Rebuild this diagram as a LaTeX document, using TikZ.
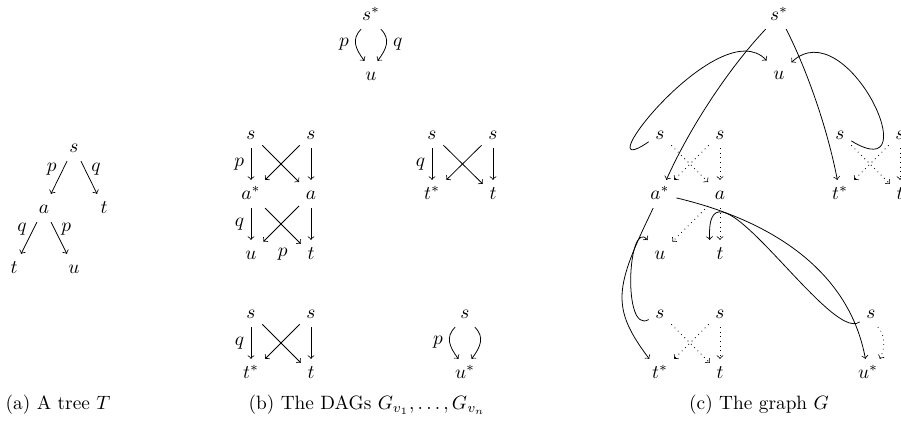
\documentclass[tikz,border=0pt]{standalone}
\begin{document}
\begin{tikzpicture}[x=0.518pt,y=-0.518pt,
  v/.style={text height=1.5ex,text depth=0.25ex},
  e/.style={->},
  d/.style={->,dotted},
  lab/.style={}]
\useasboundingbox (0,0) rectangle (901,421);
% ---------- (a) tree
\node[v] (a-s) at (74,147) {$s$};
\node[v] (a-a) at (44,208) {$a$};
\node[v] (a-t1) at (104,208) {$t$};
\node[v] (a-t2) at (14,268) {$t$};
\node[v] (a-u) at (74,268) {$u$};
\draw[e] (a-s) -- node[lab,above left,inner sep=1pt]{$p$} (a-a);
\draw[e] (a-s) -- node[lab,above right,inner sep=1pt]{$q$} (a-t1);
\draw[e] (a-a) -- node[lab,above left,inner sep=1pt]{$q$} (a-t2);
\draw[e] (a-a) -- node[lab,above right,inner sep=1pt]{$p$} (a-u);
\node (capa) at (58,405) {(a) A tree $T$};
% ---------- (b) DAGs
\node[v] (b-ss) at (371,15) {$s^*$};
\node[v] (b-u) at (371,75) {$u$};
\draw[e] (b-ss.235) .. controls +(-10,10) and +(-9,-12) .. node[lab,left]{$p$} (b-u.115);
\draw[e] (b-ss.305) .. controls +(10,10) and +(9,-12) .. node[lab,right]{$q$} (b-u.65);
% block 1
\node[v] (b1-sl) at (251,134) {$s$};
\node[v] (b1-sr) at (311,134) {$s$};
\node[v] (b1-as) at (251,194) {$a^*$};
\node[v] (b1-a) at (311,194) {$a$};
\node[v] (b1-u) at (251,254) {$u$};
\node[v] (b1-t) at (311,254) {$t$};
\draw[e] (b1-sl) -- node[lab,left]{$p$} (b1-as);
\draw[e] (b1-sl) -- (b1-a);
\draw[e] (b1-sr) -- (b1-as);
\draw[e] (b1-sr) -- (b1-a);
\draw[e] (b1-as) -- node[lab,left]{$q$} (b1-u);
\draw[e] (b1-as) -- (b1-t);
\draw[e] (b1-a) -- node[lab,pos=1,below right,xshift=4pt]{$p$} (b1-u);
\draw[e] (b1-a) -- (b1-t);
% block 2
\node[v] (b2-sl) at (432,134) {$s$};
\node[v] (b2-sr) at (493,134) {$s$};
\node[v] (b2-ts) at (432,194) {$t^*$};
\node[v] (b2-t) at (493,194) {$t$};
\draw[e] (b2-sl) -- node[lab,left]{$q$} (b2-ts);
\draw[e] (b2-sl) -- (b2-t);
\draw[e] (b2-sr) -- (b2-ts);
\draw[e] (b2-sr) -- (b2-t);
% block 3
\node[v] (b3-sl) at (251,313) {$s$};
\node[v] (b3-sr) at (311,313) {$s$};
\node[v] (b3-ts) at (251,373) {$t^*$};
\node[v] (b3-t) at (311,373) {$t$};
\draw[e] (b3-sl) -- node[lab,left]{$q$} (b3-ts);
\draw[e] (b3-sl) -- (b3-t);
\draw[e] (b3-sr) -- (b3-ts);
\draw[e] (b3-sr) -- (b3-t);
% block 4
\node[v] (b4-s) at (465,313) {$s$};
\node[v] (b4-us) at (465,373) {$u^*$};
\draw[e] (b4-s.235) .. controls +(-10,10) and +(-9,-12) .. node[lab,left]{$p$} (b4-us.115);
\draw[e] (b4-s.305) .. controls +(10,10) and +(9,-12) .. (b4-us.65);
\node (capb) at (367,405) {(b) The DAGs $G_{v_1},\ldots,G_{v_n}$};
% ---------- (c) graph
\node[v] (c-ss) at (779,15) {$s^*$};
\node[v] (c-u) at (779,74) {$u$};
\node[v] (c1-sl) at (660,134) {$s$};
\node[v] (c1-sr) at (720,134) {$s$};
\node[v] (c1-as) at (660,194) {$a^*$};
\node[v] (c1-a) at (720,194) {$a$};
\node[v] (c2-sl) at (840,134) {$s$};
\node[v] (c2-sr) at (900,134) {$s$};
\node[v] (c2-ts) at (840,194) {$t^*$};
\node[v] (c2-t) at (900,194) {$t$};
\node[v] (c3-u) at (660,254) {$u$};
\node[v] (c3-t) at (720,254) {$t$};
\node[v] (c4-sl) at (660,313) {$s$};
\node[v] (c4-sr) at (720,313) {$s$};
\node[v] (c4-ts) at (660,373) {$t^*$};
\node[v] (c4-t) at (720,373) {$t$};
\node[v] (c5-s) at (871,313) {$s$};
\node[v] (c5-us) at (868,373) {$u^*$};
% dotted
\draw[d] (c1-sl) -- (c1-a);
\draw[d] (c1-sr) -- (c1-as);
\draw[d] (c1-sr) -- (c1-a);
\draw[d] (c2-sl) -- (c2-t);
\draw[d] (c2-sr) -- (c2-ts);
\draw[d] (c2-sr) -- (c2-t);
\draw[d] (c1-a) -- (c3-u);
\draw[d] (c1-a) -- (c3-t);
\draw[d] (c4-sl) -- (c4-t);
\draw[d] (c4-sr) -- (c4-ts);
\draw[d] (c4-sr) -- (c4-t);
\draw[d] (c5-s.-64) .. controls +(8,8) and +(5,-10) .. (c5-us.50);
% solid
\draw[e] (c-ss) .. controls +(-50,53) and +(30,-67) .. (c1-as);
\draw[e] (c-ss) .. controls +(29,57) and +(-12,-63) .. (c2-ts);
\draw[e] (c1-sl) .. controls +(-80,55) and +(-59,-64) .. (c-u);
\draw[e] (c2-sl) .. controls +(90,55) and +(68,-64) .. (c-u);
\draw[e] (c1-as) .. controls +(-45,93) and +(-50,-66) .. (c4-ts);
\draw[e] (c4-sl) .. controls +(-38,22) and +(-32,-36) .. (c3-u);
\draw[e] (c1-as) .. controls +(118,28) and +(-18,-98) .. (c5-us);
\draw[e] (c5-s) .. controls +(-41,32) and +(-5,-100) .. (c3-t.north west);
\node (capc) at (759,405) {(c) The graph $G$};
\end{tikzpicture}
\end{document}
